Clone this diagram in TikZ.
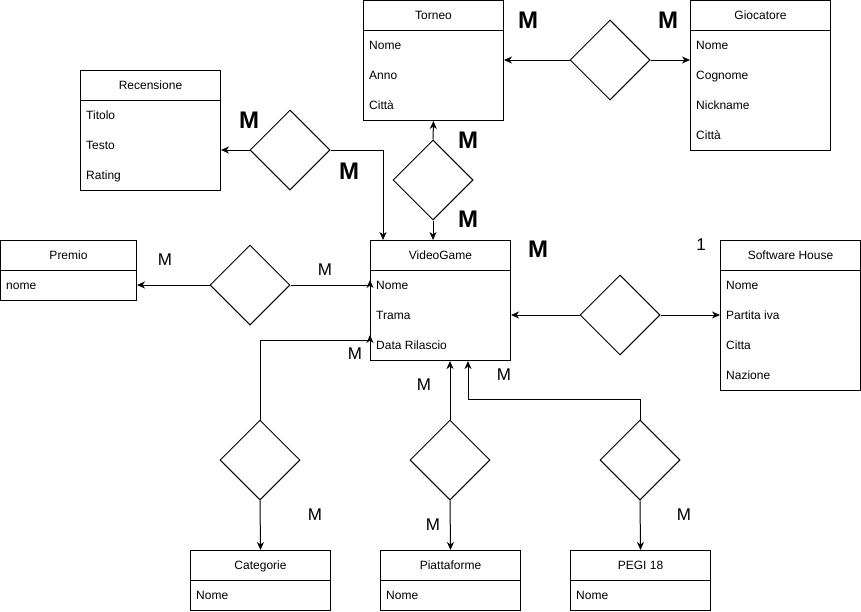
\documentclass[tikz,border=0pt]{standalone}
\usepackage{fontspec}
\setmainfont{Liberation Sans}
\usetikzlibrary{shapes.geometric,arrows.meta}
\tikzset{
  ent/.style={draw, line width=1pt, minimum width=140pt, anchor=north west, inner sep=0pt},
  hdr/.style={anchor=base, font=\fontsize{12}{14}\selectfont, inner sep=0pt},
  attr/.style={anchor=base west, font=\fontsize{12}{14}\selectfont, inner sep=0pt},
  rel/.style={draw, diamond, minimum width=80pt, minimum height=80pt, inner sep=0pt, line width=1pt},
  bigm/.style={font=\fontsize{24}{24}\selectfont\bfseries, inner sep=0pt},
  smm/.style={font=\fontsize{17}{17}\selectfont, inner sep=0pt},
  conn/.style={line width=1pt, -{Stealth[length=8pt,width=7pt,inset=2.5pt]}},
  hline/.style={line width=1pt}
}
\begin{document}
\begin{tikzpicture}[x=1pt,y=-1pt]
\useasboundingbox (0,0) rectangle (861,611);

% ---------- Torneo ----------
\node[ent, minimum height=120pt] (tor) at (363,0) {};
\draw[hline] ([yshift=-30pt]tor.north west) -- ([yshift=-30pt]tor.north east);
\node[hdr] (torh) at ([yshift=-19.3pt]tor.north) {Torneo};
\node[attr] (tor1) at ([xshift=6pt,yshift=-49.3pt]tor.north west) {Nome};
\node[attr] (tor2) at ([xshift=6pt,yshift=-79.3pt]tor.north west) {Anno};
\node[attr] (tor3) at ([xshift=6pt,yshift=-109.3pt]tor.north west) {Città};

% ---------- Giocatore ----------
\node[ent, minimum height=150pt] (gio) at (690,0) {};
\draw[hline] ([yshift=-30pt]gio.north west) -- ([yshift=-30pt]gio.north east);
\node[hdr] (gioh) at ([yshift=-19.3pt]gio.north) {Giocatore};
\node[attr] (gio1) at ([xshift=6pt,yshift=-49.3pt]gio.north west) {Nome};
\node[attr] (gio2) at ([xshift=6pt,yshift=-79.3pt]gio.north west) {Cognome};
\node[attr] (gio3) at ([xshift=6pt,yshift=-109.3pt]gio.north west) {Nickname};
\node[attr] (gio4) at ([xshift=6pt,yshift=-139.3pt]gio.north west) {Città};

% ---------- Recensione ----------
\node[ent, minimum height=120pt] (rec) at (80,70) {};
\draw[hline] ([yshift=-30pt]rec.north west) -- ([yshift=-30pt]rec.north east);
\node[hdr] (rech) at ([yshift=-19.3pt]rec.north) {Recensione};
\node[attr] (rec1) at ([xshift=6pt,yshift=-49.3pt]rec.north west) {Titolo};
\node[attr] (rec2) at ([xshift=6pt,yshift=-79.3pt]rec.north west) {Testo};
\node[attr] (rec3) at ([xshift=6pt,yshift=-109.3pt]rec.north west) {Rating};

% ---------- Premio ----------
\node[ent, minimum width=136pt, minimum height=60pt] (pre) at (0,240) {};
\draw[hline] ([yshift=-30pt]pre.north west) -- ([yshift=-30pt]pre.north east);
\node[hdr] (preh) at ([yshift=-19.3pt]pre.north) {Premio};
\node[attr] (pre1) at ([xshift=6pt,yshift=-49.3pt]pre.north west) {nome};

% ---------- VideoGame ----------
\node[ent, minimum height=120pt] (vg) at (370,240) {};
\draw[hline] ([yshift=-30pt]vg.north west) -- ([yshift=-30pt]vg.north east);
\node[hdr] (vgh) at ([yshift=-19.3pt]vg.north) {VideoGame};
\node[attr] (vg1) at ([xshift=6pt,yshift=-49.3pt]vg.north west) {Nome};
\node[attr] (vg2) at ([xshift=6pt,yshift=-79.3pt]vg.north west) {Trama};
\node[attr] (vg3) at ([xshift=6pt,yshift=-109.3pt]vg.north west) {Data Rilascio};

% ---------- Software House ----------
\node[ent, minimum height=150pt] (sh) at (720,240) {};
\draw[hline] ([yshift=-30pt]sh.north west) -- ([yshift=-30pt]sh.north east);
\node[hdr] (shh) at ([yshift=-19.3pt]sh.north) {Software House};
\node[attr] (sh1) at ([xshift=6pt,yshift=-49.3pt]sh.north west) {Nome};
\node[attr] (sh2) at ([xshift=6pt,yshift=-79.3pt]sh.north west) {Partita iva};
\node[attr] (sh3) at ([xshift=6pt,yshift=-109.3pt]sh.north west) {Citta};
\node[attr] (sh4) at ([xshift=6pt,yshift=-139.3pt]sh.north west) {Nazione};

% ---------- Categorie / Piattaforme / PEGI ----------
\node[ent, minimum height=60pt] (cat) at (190,550) {};
\draw[hline] ([yshift=-30pt]cat.north west) -- ([yshift=-30pt]cat.north east);
\node[hdr] (cath) at ([yshift=-19.3pt]cat.north) {Categorie};
\node[attr] (cat1) at ([xshift=6pt,yshift=-49.3pt]cat.north west) {Nome};

\node[ent, minimum height=60pt] (pia) at (380,550) {};
\draw[hline] ([yshift=-30pt]pia.north west) -- ([yshift=-30pt]pia.north east);
\node[hdr] (piah) at ([yshift=-19.3pt]pia.north) {Piattaforme};
\node[attr] (pia1) at ([xshift=6pt,yshift=-49.3pt]pia.north west) {Nome};

\node[ent, minimum height=60pt] (peg) at (570,550) {};
\draw[hline] ([yshift=-30pt]peg.north west) -- ([yshift=-30pt]peg.north east);
\node[hdr] (pegh) at ([yshift=-19.3pt]peg.north) {PEGI 18};
\node[attr] (peg1) at ([xshift=6pt,yshift=-49.3pt]peg.north west) {Nome};

% ---------- Relationships ----------
\node[rel] (dtg) at (610,60) {};
\node[rel] (drec) at (290,150) {};
\node[rel] (dtv) at (433,180) {};
\node[rel] (dpr) at (250,285) {};
\node[rel] (dsh) at (620,315) {};
\node[rel] (dcat) at (260,460) {};
\node[rel] (dpi) at (450,460) {};
\node[rel] (dpg) at (640,460) {};

% ---------- Connectors ----------
\draw[conn] (dtg.west) -- (tor.east |- dtg.west);
\draw[conn] (dtg.east) -- (gio.west |- dtg.east);
\draw[conn] (drec.west) -- (rec.east |- drec.west);
\coordinate (vgtop) at ([xshift=13pt]vg.north west);
\draw[conn] (drec.east) -| (vgtop);
\draw[conn] (dtv.north) -- (tor.south);
\draw[conn] (dtv.south) -- (dtv.south |- vg.north);
\draw[conn] (dpr.west) -- (pre.east |- dpr.west);
\coordinate (vgnome) at (vg.west |- dpr.east);
\draw[conn] (dpr.east) -- (vgnome) -- ++(0,-5);
\draw[conn] (dsh.west) -- (vg.east |- dsh.west);
\draw[conn] (dsh.east) -- (sh.west |- dsh.east);
\coordinate (vgdr) at ([yshift=-100pt]vg.north west);
\draw[conn] (dcat.north) |- (vgdr) -- ++(0,-5);
\draw[conn] (dcat.south) -- (cat.north);
\draw[conn] (dpi.north) -- (dpi.north |- vg.south);
\draw[conn] (dpi.south) -- (pia.north);
\coordinate (vgpeg) at ([xshift=98pt]vg.south west);
\draw[conn] (dpg.north) -- ++(0,-20) -| (vgpeg);
\draw[conn] (dpg.south) -- (peg.north);

% ---------- Cardinalities ----------
\node[bigm] (m1) at (528,20) {M};
\node[bigm] (m2) at (668,20) {M};
\node[bigm] (m3) at (249,120) {M};
\node[bigm] (m4) at (349,171) {M};
\node[bigm] (m5) at (468,140) {M};
\node[bigm] (m6) at (468,219) {M};
\node[bigm] (m7) at (538,249) {M};
\node[smm] (m8) at (165,260) {M};
\node[smm] (m9) at (325,270) {M};
\node[smm] (m10) at (355,354) {M};
\node[smm] (m11) at (424,385) {M};
\node[smm] (m12) at (504,375) {M};
\node[smm] (m13) at (315,515) {M};
\node[smm] (m14) at (433,525) {M};
\node[smm] (m15) at (684,515) {M};
\node[smm] (one) at (701,245) {1};
\end{tikzpicture}
\end{document}
